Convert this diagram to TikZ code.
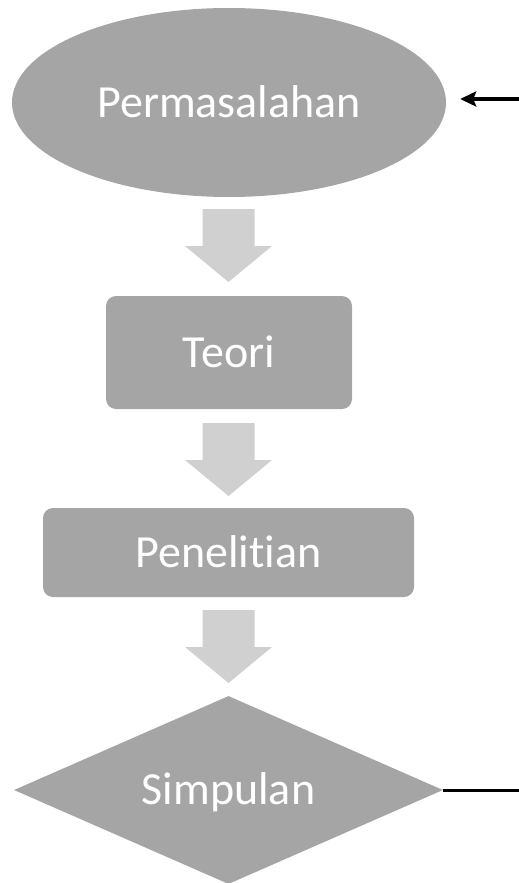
\documentclass[tikz,border=0pt]{standalone}
\usepackage{fontspec}
\setmainfont{Carlito}[Ligatures={NoCommon,NoRare,NoContextual}]
\usetikzlibrary{shapes.geometric,arrows.meta}
\definecolor{boxgray}{HTML}{A5A5A5}
\definecolor{arrgray}{HTML}{D0D0D0}
\tikzset{
  shapebox/.style={fill=boxgray, draw=none, inner sep=0pt, text=white,
    font=\fontsize{46}{55}\selectfont, text height=29.6pt, text depth=0pt},
  blockarrow/.pic={\fill[arrgray] (-26,0) -- (26,0) -- (26,37) -- (43.5,37) -- (0,73) -- (-43.5,37) -- (-26,37) -- cycle;},
  inarrow/.style={line width=4.5pt, -{Stealth[length=16pt,width=15pt,inset=3pt]}},
  outline/.style={line width=3pt}
}
\begin{document}
\begin{tikzpicture}[x=1pt,y=-1pt]
\useasboundingbox (0,0) rectangle (519,883);
\node[shapebox, ellipse, minimum width=434pt, minimum height=189pt] (perm) at (229,102.5) {Permasalahan};
\node[shapebox, rectangle, rounded corners=10pt, minimum width=246pt, minimum height=113pt] (teori) at (229,352.5) {Teori};
\node[shapebox, rectangle, rounded corners=10pt, minimum width=371pt, minimum height=89pt] (pen) at (228.5,552.5) {Penelitian};
\node[shapebox, diamond, aspect=2.28, minimum width=429pt, minimum height=188pt] (simp) at (228.5,790) {Simpulan};
\pic at (228.5,209) {blockarrow};
\pic at (228.5,423) {blockarrow};
\pic at (228.5,610) {blockarrow};
\coordinate (inR) at (519,99);
\coordinate (tipA) at ([xshift=14pt]perm.east);
\draw[inarrow] (inR) -- (tipA |- inR);
\coordinate (outR) at (519,788);
\draw[outline] (simp.east) -- (simp.east -| outR);
\end{tikzpicture}
\end{document}
